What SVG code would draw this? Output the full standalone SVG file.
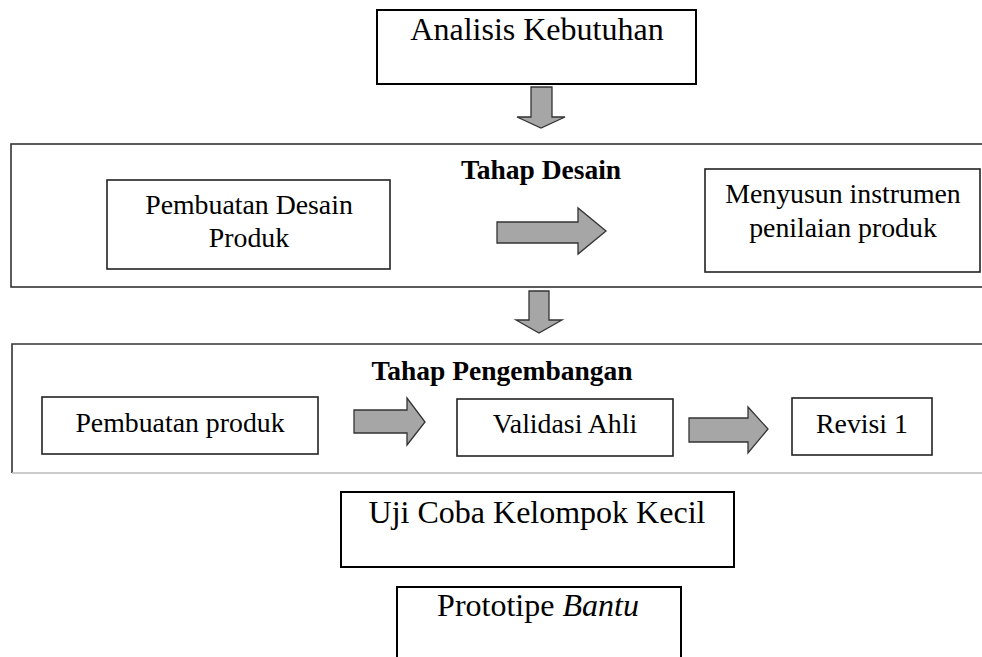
<svg xmlns="http://www.w3.org/2000/svg" width="982" height="657" viewBox="0 0 982 657">
<style>
text{font-family:"Liberation Serif","Times New Roman",serif;fill:#000;text-anchor:middle}
.big{font-size:32px}
.mid{font-size:27.8px}
.bold{font-size:27.5px;font-weight:bold}
.ob{fill:#fff;stroke:#000;stroke-width:2}
.ib{fill:#fff;stroke:#222;stroke-width:1.6}
.stage{fill:none;stroke:#333;stroke-width:1.6}
.arr{fill:#a6a6a6;stroke:#333;stroke-width:1.3;stroke-linejoin:miter}
</style>
<rect width="982" height="657" fill="#fff"/>
<g id="stage-desain">
<rect class="stage" x="11" y="144" width="990" height="143"/>
<text class="bold" x="541" y="179">Tahap Desain</text>
</g>
<g id="stage-pengembangan">
<path d="M12 473 V344 H990" class="stage"/>
<path d="M12 473 H990" fill="none" stroke="#bbb" stroke-width="1.5"/>
<text class="bold" x="502" y="380">Tahap Pengembangan</text>
</g>
<g id="analisis">
<rect class="ob" x="377" y="10" width="319" height="74"/>
<text class="big" x="537" y="40">Analisis Kebutuhan</text>
</g>
<g id="desain-produk">
<rect class="ib" x="107" y="180" width="283" height="89"/>
<text class="mid" x="249" y="214">Pembuatan Desain</text>
<text class="mid" x="249" y="247">Produk</text>
</g>
<g id="instrumen">
<rect class="ib" x="705" y="169" width="275" height="103"/>
<text class="mid" x="843" y="203">Menyusun instrumen</text>
<text class="mid" x="843" y="237">penilaian produk</text>
</g>
<g id="pembuatan-produk">
<rect class="ib" x="42" y="397" width="276" height="57"/>
<text class="mid" x="180" y="432">Pembuatan produk</text>
</g>
<g id="validasi">
<rect class="ib" x="457" y="399" width="216" height="57"/>
<text class="mid" x="565" y="433">Validasi Ahli</text>
</g>
<g id="revisi">
<rect class="ib" x="792" y="398" width="140" height="57"/>
<text class="mid" x="862" y="433">Revisi 1</text>
</g>
<g id="uji-coba">
<rect class="ob" x="341" y="492" width="393" height="75"/>
<text class="big" x="537" y="523">Uji Coba Kelompok Kecil</text>
</g>
<g id="prototipe">
<path class="ob" d="M397 660 V587 H681 V660"/>
<text class="big" x="538" y="616">Prototipe <tspan font-style="italic">Bantu</tspan></text>
</g>
<g id="connectors">
<path class="arr" d="M531 87 H552 V117 H565 L541 128 L517 117 H531 Z"/>
<path class="arr" d="M529 291 H549 V320 H562 L539 333 L516 320 H529 Z"/>
<path class="arr" d="M497 222 H578 V208 L606 231 L578 254 V243 H497 Z"/>
<path class="arr" d="M354 410 H407 V398 L425 422 L407 445 V433 H354 Z"/>
<path class="arr" d="M689 418 H748 V407 L768 429 L748 453 V442 H689 Z"/>
</g>
</svg>
